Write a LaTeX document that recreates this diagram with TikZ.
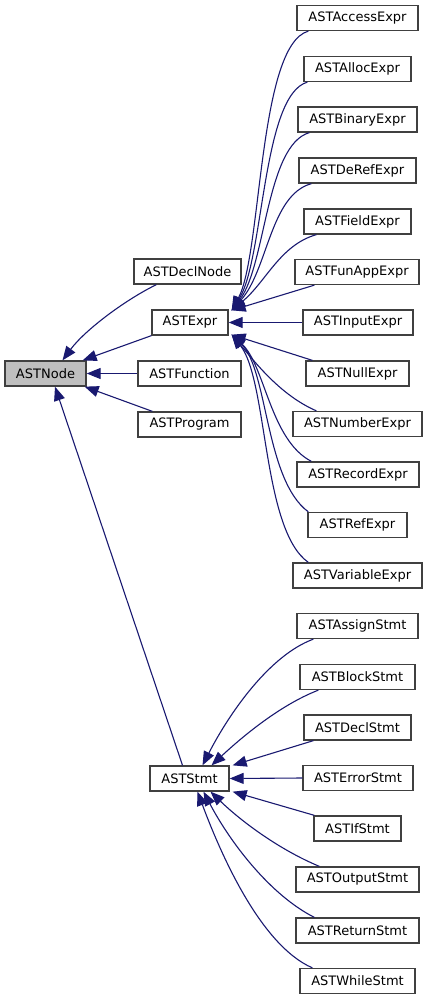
\documentclass[tikz,border=0pt]{standalone}
\usepackage{fontspec}
\setmainfont{DejaVu Sans}
\usetikzlibrary{arrows.meta}
\definecolor{edgeblue}{HTML}{191970}
\definecolor{boxgray}{HTML}{BFBFBF}
\tikzset{
  cls/.style={draw=black!75, line width=1.3pt, fill=white, minimum height=25pt, inner sep=0pt, font=\fontsize{13}{15}\selectfont, anchor=center},
  rootcls/.style={cls, fill=boxgray},
  edge/.style={draw=edgeblue, line width=1.1pt, -{Triangle[length=14pt,width=11pt]}, shorten >=0pt}
}
\begin{document}
\begin{tikzpicture}[x=1pt,y=-1pt]
\useasboundingbox (0,0) rectangle (428,1000);
% nodes
\node[rootcls, minimum width=81pt] (node) at (45.5,373.5) {ASTNode};
\node[cls, minimum width=107pt] (declnode) at (187.5,271.5) {ASTDeclNode};
\node[cls, minimum width=76pt] (expr) at (190,322.5) {ASTExpr};
\node[cls, minimum width=103pt] (function) at (189.5,373.5) {ASTFunction};
\node[cls, minimum width=103pt] (program) at (189.5,424.5) {ASTProgram};
\node[cls, minimum width=79pt] (stmt) at (189.5,778.5) {ASTStmt};
% expr children
\node[cls, minimum width=121pt] (access) at (357.5,18) {ASTAccessExpr};
\node[cls, minimum width=107pt] (alloc) at (357.5,69) {ASTAllocExpr};
\node[cls, minimum width=119pt] (binary) at (357.5,119.5) {ASTBinaryExpr};
\node[cls, minimum width=117pt] (deref) at (357.5,170.5) {ASTDeRefExpr};
\node[cls, minimum width=107pt] (field) at (357.5,221.5) {ASTFieldExpr};
\node[cls, minimum width=124pt] (funapp) at (357,272) {ASTFunAppExpr};
\node[cls, minimum width=110pt] (input) at (358,322.5) {ASTInputExpr};
\node[cls, minimum width=103pt] (null) at (357.5,373.5) {ASTNullExpr};
\node[cls, minimum width=129pt] (number) at (357.5,424) {ASTNumberExpr};
\node[cls, minimum width=122pt] (record) at (358,474.5) {ASTRecordExpr};
\node[cls, minimum width=99pt] (ref) at (357.5,525) {ASTRefExpr};
\node[cls, minimum width=129pt] (variable) at (357.5,575.5) {ASTVariableExpr};
% stmt children
\node[cls, minimum width=121pt] (assign) at (357.5,626) {ASTAssignStmt};
\node[cls, minimum width=115pt] (block) at (357.5,677) {ASTBlockStmt};
\node[cls, minimum width=107pt] (declstmt) at (357.5,727.5) {ASTDeclStmt};
\node[cls, minimum width=110pt] (error) at (358,778) {ASTErrorStmt};
\node[cls, minimum width=87pt] (if) at (357.5,828.5) {ASTIfStmt};
\node[cls, minimum width=123pt] (output) at (357.5,879.5) {ASTOutputStmt};
\node[cls, minimum width=123pt] (return) at (357.5,930.5) {ASTReturnStmt};
\node[cls, minimum width=115pt] (while) at (357.5,981) {ASTWhileStmt};
% edges to ASTNode
\draw[edge] ([xshift=23pt]declnode.south west) .. controls (125,300) and (85,330) .. ([xshift=17pt]node.north);
\draw[edge] (expr.south west) -- ([xshift=-4pt]node.north east);
\draw[edge] (function.west) -- (node.east);
\draw[edge] ([xshift=15pt]program.north west) -- ([xshift=-2pt]node.south east);
\draw[edge] ([xshift=-7pt]stmt.north) -- ([xshift=9.5pt]node.south);
% edges to ASTExpr
\draw[edge] ([xshift=12pt]access.south west) .. controls (258,45) and (262,255) .. ([xshift=3pt,yshift=-1pt]expr.north east);
\draw[edge] ([xshift=4pt]alloc.south west) .. controls (262,95) and (264,260) .. ([xshift=3pt,yshift=-1pt]expr.north east);
\draw[edge] ([xshift=12pt]binary.south west) .. controls (266,145) and (266,265) .. ([xshift=3pt,yshift=-1pt]expr.north east);
\draw[edge] ([xshift=13pt]deref.south west) .. controls (270,195) and (268,270) .. ([xshift=3pt,yshift=-1pt]expr.north east);
\draw[edge] ([xshift=13pt]field.south west) .. controls (280,245) and (266,282) .. ([xshift=3pt,yshift=-1pt]expr.north east);
\draw[edge] ([xshift=20pt]funapp.south west) -- ([xshift=3pt,yshift=-1pt]expr.north east);
\draw[edge] (input.west) -- (expr.east);
\draw[edge] ([xshift=7pt]null.north west) -- ([xshift=3pt,yshift=1pt]expr.south east);
\draw[edge] ([xshift=24pt]number.north west) .. controls (280,395) and (255,362) .. ([xshift=3pt,yshift=1pt]expr.south east);
\draw[edge] ([xshift=15pt]record.north west) .. controls (270,440) and (265,365) .. ([xshift=3pt,yshift=1pt]expr.south east);
\draw[edge] ([xshift=1pt]ref.north west) .. controls (265,480) and (268,370) .. ([xshift=3pt,yshift=1pt]expr.south east);
\draw[edge] ([xshift=16pt]variable.north west) .. controls (262,530) and (268,380) .. ([xshift=3pt,yshift=1pt]expr.south east);
% edges to ASTStmt
\draw[edge] ([xshift=17pt]assign.south west) .. controls (270,655) and (230,712) .. ([xshift=13pt]stmt.north);
\draw[edge] ([xshift=19pt]block.south west) .. controls (280,705) and (242,737) .. ([xshift=22pt]stmt.north);
\draw[edge] ([xshift=10pt]declstmt.south west) -- ([xshift=3pt]stmt.north east);
\draw[edge] (error.west) -- (stmt.east);
\draw[edge] ([xshift=1pt]if.north west) -- ([xshift=3pt]stmt.south east);
\draw[edge] ([xshift=24pt]output.north west) .. controls (280,850) and (242,822) .. ([xshift=21pt]stmt.south);
\draw[edge] ([xshift=19pt]return.north west) .. controls (270,895) and (230,842) .. ([xshift=14pt]stmt.south);
\draw[edge] ([xshift=13pt]while.north west) .. controls (260,945) and (220,852) .. ([xshift=8pt]stmt.south);
\end{tikzpicture}
\end{document}
